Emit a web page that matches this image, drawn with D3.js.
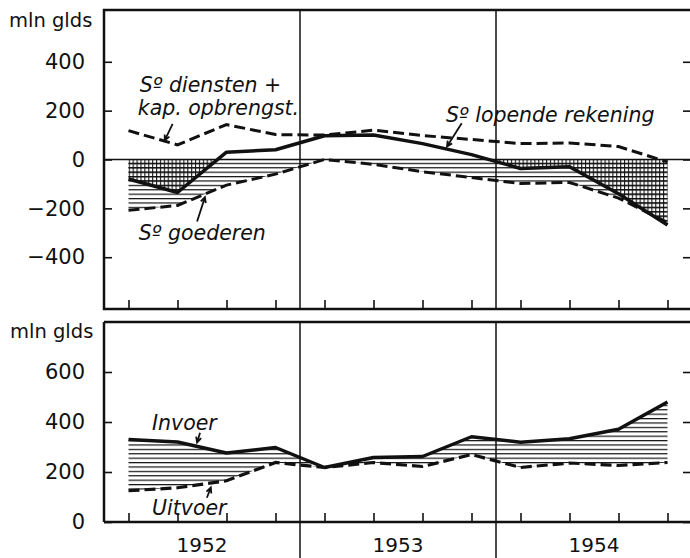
<!DOCTYPE html>
<html lang="nl">
<head>
<meta charset="UTF-8">
<title>Betalingsbalans</title>
<script src="https://cdn.jsdelivr.net/npm/d3@7"></script>
<style>
    body { margin: 0; background: #fff; }
    svg { display: block; }
    text { font-family: "DejaVu Sans", sans-serif; fill: #111; }
    .lbl { font-style: italic; font-size: 20.5px; }
</style>
</head>
<body>
<script>
// kwartaalcijfers 1952-1954, mln gld
var quarters = ["1952 I", "1952 II", "1952 III", "1952 IV",
                "1953 I", "1953 II", "1953 III", "1953 IV",
                "1954 I", "1954 II", "1954 III", "1954 IV"];
var years = ["1952", "1953", "1954"];

var saldoLopende  = [-80, -135, 30, 40, 97, 100, 65, 20, -37, -30, -140, -268];
var saldoDiensten = [118, 60, 143, 102, 100, 120, 98, 82, 65, 68, 53, -10];
var saldoGoederen = [-208, -188, -105, -60, 0, -20, -50, -74, -98, -94, -158, -258];

var invoer  = [330, 320, 276, 298, 218, 258, 262, 341, 319, 333, 371, 480];
var uitvoer = [125, 137, 165, 238, 218, 238, 222, 270, 218, 236, 226, 238];

var ticksTop = [-400, -200, 0, 200, 400];
var ticksBottom = [0, 200, 400, 600];

var W = 690, H = 558;
var svg = d3.select("body").append("svg").attr("width", W).attr("height", H);

// x: 12 kwartalen, punten in het midden van elk kwartaal
var x = d3.scaleLinear().domain([0, 12]).range([104, 692]);
var xq = function (i) { return x(i + 0.5); };

var yT = d3.scaleLinear().domain([-612, 612]).range([309, 10]);
var yB = d3.scaleLinear().domain([0, 800]).range([522, 322]);

// arceringen
var defs = svg.append("defs");
var hor = defs.append("pattern").attr("id", "hor").attr("patternUnits", "userSpaceOnUse")
    .attr("width", 8).attr("height", 4.4);
hor.append("line").attr("x1", 0).attr("x2", 8).attr("y1", 0.6).attr("y2", 0.6)
    .attr("stroke", "#111").attr("stroke-width", 1.2);
var cross = defs.append("pattern").attr("id", "cross").attr("patternUnits", "userSpaceOnUse")
    .attr("width", 3.9).attr("height", 4.4);
cross.append("line").attr("x1", 0).attr("x2", 3.9).attr("y1", 0.6).attr("y2", 0.6)
    .attr("stroke", "#111").attr("stroke-width", 1.2);
cross.append("line").attr("x1", 0.6).attr("x2", 0.6).attr("y1", 0).attr("y2", 4.4)
    .attr("stroke", "#111").attr("stroke-width", 1.1);
defs.append("clipPath").attr("id", "below0").append("rect")
    .attr("x", 0).attr("y", yT(0)).attr("width", W).attr("height", 200);

var lineT = function (data) {
    return d3.line().x(function (d, i) { return xq(i); }).y(function (d) { return yT(d); })(data);
};
var lineB = function (data) {
    return d3.line().x(function (d, i) { return xq(i); }).y(function (d) { return yB(d); })(data);
};

// ---------- bovenste paneel ----------
var gTop = svg.append("g");

gTop.append("path")
    .attr("d", d3.area().x(function (d, i) { return xq(i); })
        .y0(yT(0)).y1(function (d) { return yT(d); })(saldoGoederen))
    .attr("fill", "url(#hor)");
gTop.append("path")
    .attr("d", d3.area().x(function (d, i) { return xq(i); })
        .y0(yT(0)).y1(function (d) { return yT(d); })(saldoLopende))
    .attr("fill", "url(#cross)").attr("clip-path", "url(#below0)");

gTop.append("line").attr("x1", x(0)).attr("x2", x(12)).attr("y1", yT(0)).attr("y2", yT(0))
    .attr("stroke", "#111").attr("stroke-width", 1.5);

[4, 8].forEach(function (q) {
    gTop.append("line").attr("x1", x(q)).attr("x2", x(q)).attr("y1", yT(612)).attr("y2", yT(-612))
        .attr("stroke", "#111").attr("stroke-width", 1.5);
});

gTop.append("g").attr("transform", "translate(" + x(0) + ",0)")
    .call(d3.axisLeft(yT).tickValues(ticksTop).tickSize(-8).tickPadding(19))
    .call(function (g) { g.select(".domain").remove(); });
gTop.append("g").attr("transform", "translate(" + x(12) + ",0)")
    .call(d3.axisRight(yT).tickValues(ticksTop).tickSize(-9).tickFormat(""))
    .call(function (g) { g.select(".domain").remove(); });
gTop.append("g").attr("transform", "translate(0," + yT(-612) + ")")
    .call(d3.axisBottom(x).tickValues(d3.range(12).map(function (i) { return i + 0.5; }))
        .tickSize(-9).tickFormat(""))
    .call(function (g) { g.select(".domain").remove(); });

gTop.append("path").attr("d", lineT(saldoDiensten)).attr("fill", "none")
    .attr("stroke", "#111").attr("stroke-width", 3).attr("stroke-dasharray", "11,5");
gTop.append("path").attr("d", lineT(saldoGoederen)).attr("fill", "none")
    .attr("stroke", "#111").attr("stroke-width", 3).attr("stroke-dasharray", "11,5");
gTop.append("path").attr("d", lineT(saldoLopende)).attr("fill", "none")
    .attr("stroke", "#111").attr("stroke-width", 3.5).attr("stroke-linejoin", "round");

gTop.append("rect").attr("x", x(0)).attr("y", yT(612)).attr("width", x(12) - x(0))
    .attr("height", yT(-612) - yT(612)).attr("fill", "none").attr("stroke", "#111").attr("stroke-width", 2.5);

// ---------- onderste paneel ----------
var gBot = svg.append("g");

gBot.append("path")
    .attr("d", d3.area().x(function (d, i) { return xq(i); })
        .y0(function (d, i) { return yB(uitvoer[i]); }).y1(function (d) { return yB(d); })(invoer))
    .attr("fill", "url(#hor)");

[4, 8].forEach(function (q) {
    gBot.append("line").attr("x1", x(q)).attr("x2", x(q)).attr("y1", yB(800)).attr("y2", H)
        .attr("stroke", "#111").attr("stroke-width", 1.5);
});

gBot.append("g").attr("transform", "translate(" + x(0) + ",0)")
    .call(d3.axisLeft(yB).tickValues(ticksBottom).tickSize(-8).tickPadding(19))
    .call(function (g) { g.select(".domain").remove(); });
gBot.append("g").attr("transform", "translate(" + x(12) + ",0)")
    .call(d3.axisRight(yB).tickValues(ticksBottom).tickSize(-9).tickFormat(""))
    .call(function (g) { g.select(".domain").remove(); });
gBot.append("g").attr("transform", "translate(0," + yB(0) + ")")
    .call(d3.axisBottom(x).tickValues(d3.range(12).map(function (i) { return i + 0.5; }))
        .tickSize(-9).tickFormat(""))
    .call(function (g) { g.select(".domain").remove(); });

gBot.append("path").attr("d", lineB(uitvoer)).attr("fill", "none")
    .attr("stroke", "#111").attr("stroke-width", 3.2).attr("stroke-dasharray", "11,5");
gBot.append("path").attr("d", lineB(invoer)).attr("fill", "none")
    .attr("stroke", "#111").attr("stroke-width", 3.5).attr("stroke-linejoin", "round");

gBot.append("line").attr("x1", x(0)).attr("x2", x(12)).attr("y1", yB(800)).attr("y2", yB(800))
    .attr("stroke", "#111").attr("stroke-width", 2.5);
gBot.append("line").attr("x1", x(0)).attr("x2", x(12)).attr("y1", yB(0)).attr("y2", yB(0))
    .attr("stroke", "#111").attr("stroke-width", 2.5);
gBot.append("line").attr("x1", x(0)).attr("x2", x(0)).attr("y1", yB(800)).attr("y2", yB(0))
    .attr("stroke", "#111").attr("stroke-width", 2.5);

// tick label styling
svg.selectAll(".tick text").style("font-size", "21px").style("font-family", "DejaVu Sans");
svg.selectAll(".tick line").attr("stroke", "#111").attr("stroke-width", 1.6);

// eenheden
svg.append("text").attr("x", 9).attr("y", 27).style("font-size", "19.5px").text("mln glds");
svg.append("text").attr("x", 10).attr("y", 338).style("font-size", "19.5px").text("mln glds");

// jaartallen
svg.selectAll(".year").data(years).enter().append("text")
    .attr("x", function (d, i) { return x(i * 4 + 2); }).attr("y", 552)
    .attr("text-anchor", "middle").style("font-size", "20px").text(function (d) { return d; });

// bijschriften
function label(txt, q, py) {
    svg.append("text").attr("class", "lbl").attr("x", x(q)).attr("y", py).text(txt);
}
function arrow(q1, y1, q2, y2) {
    var x1 = x(q1), x2 = x(q2);
    var a = Math.atan2(y2 - y1, x2 - x1);
    var p = d3.path();
    p.moveTo(x1, y1); p.lineTo(x2, y2);
    p.moveTo(x2 - 6 * Math.cos(a - 0.45), y2 - 6 * Math.sin(a - 0.45));
    p.lineTo(x2, y2);
    p.lineTo(x2 - 6 * Math.cos(a + 0.45), y2 - 6 * Math.sin(a + 0.45));
    svg.append("path").attr("d", p.toString()).attr("fill", "none")
        .attr("stroke", "#111").attr("stroke-width", 1.8);
}

label("S\u00ba diensten +", 0.73, yT(278));
label("kap. opbrengst.", 0.69, yT(184));
arrow(1.4, yT(146), 1.24, yT(78));

label("S\u00ba lopende rekening", 6.98, yT(155));
arrow(7.3, yT(148), 7.0, yT(53));

label("S\u00ba goederen", 0.71, yT(-331));
arrow(1.9, yT(-254), 2.06, yT(-154));

label("Invoer", 0.98, yB(370));
arrow(1.96, yB(357), 1.9, yB(318));

label("Uitvoer", 0.98, yB(28));
arrow(2.1, yB(97), 2.18, yB(138));
</script>
</body>
</html>
